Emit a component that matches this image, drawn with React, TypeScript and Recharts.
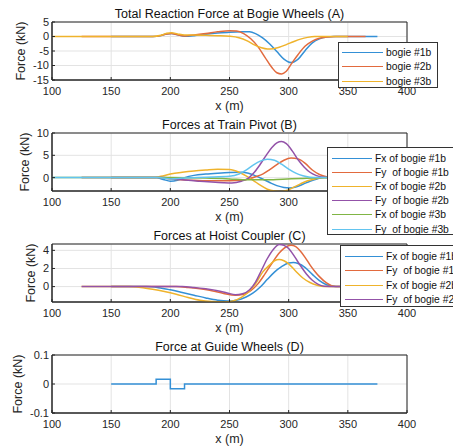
import React from 'react';
import { LineChart, Line, XAxis, YAxis, CartesianGrid, ReferenceArea } from 'recharts';

const xTicks = [100, 150, 200, 250, 300, 350, 400];

// (A) total reaction force at bogie wheels
const aX1 = [150, 185, 192, 197, 201, 206, 212, 220, 230, 240, 250, 260, 267, 272, 278, 284, 290, 296, 302, 308, 314, 320, 326, 332, 338, 345, 375];
const aY1 = [0, 0, 0.3, 0.9, 1.0, 0.6, 0.1, 0.3, 0.8, 1.2, 1.5, 1.6, 1.6, 1.0, -0.5, -2.6, -5.2, -7.8, -9.0, -7.8, -4.8, -2.2, -0.8, -0.2, 0, 0, 0];
const aX2 = [125, 185, 192, 197, 201, 206, 212, 220, 230, 240, 250, 256, 262, 268, 274, 280, 286, 290, 294, 298, 303, 308, 314, 320, 326, 332, 340, 365];
const aY2 = [0, 0, 0.3, 0.9, 1.0, 0.6, 0.2, 0.5, 1.0, 1.6, 2.0, 1.9, 1.0, -0.8, -3.5, -7.2, -10.8, -12.5, -12.9, -12.0, -9.0, -6.2, -3.3, -1.6, -0.6, -0.2, 0, 0];
const aX3 = [100, 185, 192, 197, 201, 206, 212, 220, 230, 240, 250, 258, 265, 271, 277, 282, 287, 292, 298, 304, 310, 316, 322, 330, 350];
const aY3 = [0, 0, 0.4, 1.1, 1.3, 0.9, 0.5, 0.5, 0.4, 0.3, 0.1, -0.4, -1.5, -2.9, -3.9, -4.3, -4.2, -3.7, -2.8, -1.8, -0.9, -0.3, 0, 0, 0];

// (B) forces at train pivot
const bX1 = [150, 188, 194, 200, 206, 212, 220, 230, 240, 250, 260, 266, 272, 278, 284, 290, 296, 301, 306, 312, 318, 324, 330, 338, 375];
const bY1 = [0, 0, -0.4, -0.8, -0.6, 0, 0.5, 0.8, 1.0, 1.15, 1.2, 1.0, 0.4, -0.3, -1.1, -1.8, -2.2, -2.3, -2.1, -1.5, -0.8, -0.3, 0, 0, 0];
const bX2 = [150, 190, 200, 210, 220, 230, 240, 250, 260, 266, 272, 278, 284, 290, 296, 302, 308, 314, 320, 326, 332, 340, 375];
const bY2 = [0, 0, -0.3, -0.5, -0.6, -0.7, -0.7, -0.7, -0.6, -0.3, 0.2, 0.8, 1.8, 2.9, 3.9, 4.4, 4.2, 3.2, 1.7, 0.7, 0.2, 0, 0];
const bX3 = [125, 185, 192, 200, 210, 220, 230, 240, 250, 258, 264, 270, 276, 282, 288, 293, 298, 304, 310, 316, 322, 330, 340, 365];
const bY3 = [0, 0, 0.3, 0.8, 1.2, 1.5, 1.7, 1.85, 1.8, 1.2, 0.4, -0.6, -1.7, -2.6, -3.0, -3.1, -2.9, -2.2, -1.4, -0.7, -0.3, 0, 0, 0];
const bX4 = [125, 195, 205, 215, 225, 235, 245, 252, 260, 266, 271, 276, 281, 286, 290, 294, 298, 303, 308, 313, 318, 323, 330, 340, 365];
const bY4 = [0, 0, -0.3, -0.6, -0.8, -1.0, -1.15, -1.2, -0.8, -0.1, 1.2, 3.0, 5.0, 6.8, 7.8, 8.1, 7.6, 6.0, 4.0, 2.4, 1.2, 0.5, 0.1, 0, 0];
const bX5 = [100, 200, 230, 250, 265, 280, 295, 310, 325, 340, 350];
const bY5 = [0, 0, -0.1, -0.3, -0.5, -0.5, -0.35, -0.2, -0.05, 0, 0];
const bX6 = [100, 190, 200, 210, 230, 250, 258, 264, 270, 276, 282, 288, 294, 300, 306, 312, 318, 325, 335, 350];
const bY6 = [0, 0, -0.3, -0.1, 0.1, 0.3, 0.8, 1.7, 2.8, 3.7, 4.1, 3.9, 3.0, 1.9, 1.0, 0.4, 0.1, 0, 0, 0];

// (C) forces at hoist coupler
const cX1 = [150, 180, 190, 200, 210, 220, 230, 240, 248, 256, 264, 270, 276, 282, 288, 294, 300, 304, 308, 314, 320, 326, 332, 340, 350];
const cY1 = [0, 0, -0.12, -0.36, -0.65, -0.95, -1.25, -1.5, -1.6, -1.5, -1.15, -0.7, -0.05, 0.8, 1.6, 2.2, 2.6, 2.65, 2.55, 2.1, 1.35, 0.65, 0.2, 0, 0];
const cX2 = [150, 205, 215, 225, 235, 245, 255, 262, 268, 274, 280, 286, 292, 298, 302, 306, 310, 314, 318, 322, 326, 332, 340, 350];
const cY2 = [0, 0, -0.1, -0.25, -0.45, -0.75, -0.95, -0.85, -0.45, 0.3, 1.4, 2.6, 3.7, 4.4, 4.55, 4.4, 3.9, 3.2, 2.4, 1.7, 1.1, 0.4, 0, 0];
const cX3 = [125, 165, 175, 185, 195, 205, 215, 225, 235, 245, 253, 260, 266, 272, 278, 284, 288, 292, 296, 300, 306, 312, 318, 324, 330, 340, 350];
const cY3 = [0, 0, -0.1, -0.3, -0.55, -0.85, -1.2, -1.5, -1.65, -1.7, -1.6, -1.2, -0.6, 0.3, 1.6, 2.4, 2.85, 3.0, 2.85, 2.5, 1.7, 0.95, 0.45, 0.15, 0, 0, 0];
const cX4 = [125, 210, 220, 230, 240, 248, 255, 261, 267, 272, 277, 282, 287, 292, 296, 300, 305, 310, 315, 320, 325, 330, 340, 350];
const cY4 = [0, 0, -0.1, -0.25, -0.45, -0.7, -0.9, -0.8, -0.35, 0.5, 1.8, 3.1, 4.1, 4.65, 4.55, 4.2, 3.3, 2.3, 1.4, 0.7, 0.25, 0.05, 0, 0];

// (D) force at guide wheels
const dX1 = [150, 188, 188, 200, 200, 212, 212, 375];
const dY1 = [0, 0, 0.016, 0.016, -0.016, -0.016, 0, 0];

const BLUE = '#3490d6';
const ORANGE = '#e26a3e';
const YELLOW = '#efb32c';
const PURPLE = '#9352a8';
const GREEN = '#80b545';
const CYAN = '#62c4ef';

const zip = (xs: number[], ys: number[]) => xs.map((x, i) => ({ x, y: ys[i] }));

type Series = { name: string; color: string; pts: { x: number; y: number }[] };
type LegendBox = { left: number; top: number; width: number; height: number; first: number; step: number; lineX: number; lineW: number };

const panels = [
  {
    top: 0,
    title: 'Total Reaction Force at Bogie Wheels (A)',
    yDomain: [-15, 5],
    yTicks: [-15, -10, -5, 0, 5],
    ylabelX: 20.5,
    curve: 'monotone',
    series: [
      { name: 'bogie #1b', color: BLUE, pts: zip(aX1, aY1) },
      { name: 'bogie #2b', color: ORANGE, pts: zip(aX2, aY2) },
      { name: 'bogie #3b', color: YELLOW, pts: zip(aX3, aY3) },
    ],
    legend: { left: 338, top: 42, width: 100, height: 46, first: 9, step: 14.5, lineX: 4, lineW: 41 },
  },
  {
    top: 111,
    title: 'Forces at Train Pivot (B)',
    yDomain: [-3, 10],
    yTicks: [0, 5, 10],
    ylabelX: 25,
    curve: 'monotone',
    series: [
      { name: 'Fx of bogie #1b', color: BLUE, pts: zip(bX1, bY1) },
      { name: 'Fy  of bogie #1b', color: ORANGE, pts: zip(bX2, bY2) },
      { name: 'Fx of bogie #2b', color: YELLOW, pts: zip(bX3, bY3) },
      { name: 'Fy  of bogie #2b', color: PURPLE, pts: zip(bX4, bY4) },
      { name: 'Fx of bogie #3b', color: GREEN, pts: zip(bX5, bY5) },
      { name: 'Fy  of bogie #3b', color: CYAN, pts: zip(bX6, bY6) },
    ],
    legend: { left: 327, top: 147, width: 135, height: 88, first: 10, step: 14.2, lineX: 5, lineW: 40 },
  },
  {
    top: 222,
    title: 'Forces at Hoist Coupler (C)',
    yDomain: [-1.7, 4.7],
    yTicks: [0, 2, 4],
    ylabelX: 30.5,
    curve: 'monotone',
    series: [
      { name: 'Fx of bogie #1b', color: BLUE, pts: zip(cX1, cY1) },
      { name: 'Fy  of bogie #1b', color: ORANGE, pts: zip(cX2, cY2) },
      { name: 'Fx of bogie #2b', color: YELLOW, pts: zip(cX3, cY3) },
      { name: 'Fy  of bogie #2b', color: PURPLE, pts: zip(cX4, cY4) },
    ],
    legend: { left: 340, top: 245, width: 130, height: 62, first: 10, step: 14.6, lineX: 5, lineW: 38 },
  },
  {
    top: 333,
    title: 'Force at Guide Wheels (D)',
    yDomain: [-0.1, 0.1],
    yTicks: [-0.1, 0, 0.1],
    ylabelX: 18,
    curve: 'linear',
    series: [{ name: 'guide', color: BLUE, pts: zip(dX1, dY1) }],
    legend: null,
  },
];

const Legend = ({ box, series }: { box: LegendBox; series: Series[] }) => (
  <div
    style={{
      position: 'absolute',
      left: box.left,
      top: box.top,
      width: box.width,
      height: box.height,
      boxSizing: 'border-box',
      border: '1px solid #333',
      background: '#fff',
      fontSize: 10.3,
      color: '#111',
    }}
  >
    {series.map((s, i) => (
      <div
        key={s.name}
        style={{
          position: 'absolute',
          left: box.lineX - 1,
          top: box.first + i * box.step - 8,
          height: 16,
          display: 'flex',
          alignItems: 'center',
          whiteSpace: 'pre',
        }}
      >
        <div style={{ width: box.lineW, height: 0, borderTop: `1.5px solid ${s.color}` }} />
        <span style={{ marginLeft: 3 }}>{s.name}</span>
      </div>
    ))}
  </div>
);

const Panel = ({ p }: { p: (typeof panels)[number] }) => (
  <div style={{ position: 'absolute', left: 0, top: p.top, width: 453, height: 125 }}>
    <LineChart width={453} height={125} margin={{ top: 22, right: 46, bottom: 14, left: 0 }}>
      <CartesianGrid stroke="#e3e3e3" />
      <XAxis
        type="number"
        dataKey="x"
        domain={[100, 400]}
        ticks={xTicks}
        interval={0}
        allowDataOverflow
        height={31}
        tickSize={-3}
        tickMargin={10}
        stroke="#262626"
        tick={{ fill: '#262626', fontSize: 11 }}
        label={{ value: 'x (m)', position: 'insideBottom', offset: 1, fill: '#262626', fontSize: 12.5 }}
      />
      <YAxis
        type="number"
        domain={p.yDomain}
        ticks={p.yTicks}
        interval={0}
        allowDataOverflow
        width={52}
        tickSize={-3}
        tickMargin={6}
        stroke="#262626"
        tick={{ fill: '#262626', fontSize: 11 }}
        label={{
          value: 'Force (kN)',
          angle: -90,
          position: 'insideLeft',
          offset: p.ylabelX,
          textAnchor: 'middle',
          fill: '#262626',
          fontSize: 12.5,
        }}
      />
      <ReferenceArea x1={100} x2={400} y1={p.yDomain[0]} y2={p.yDomain[1]} fill="none" stroke="#262626" strokeWidth={1} />
      {p.series.map((s) => (
        <Line
          key={s.name}
          data={s.pts}
          dataKey="y"
          name={s.name}
          type={p.curve as any}
          stroke={s.color}
          strokeWidth={1.5}
          dot={false}
          activeDot={false}
          isAnimationActive={false}
        />
      ))}
    </LineChart>
    <div
      style={{
        position: 'absolute',
        left: 52,
        width: 355,
        top: 6,
        textAlign: 'center',
        fontSize: 12.5,
        lineHeight: '16px',
        color: '#111',
      }}
    >
      {p.title}
    </div>
  </div>
);

export default function App() {
  return (
    <div
      style={{
        position: 'absolute',
        left: 0,
        top: 0,
        width: 453,
        height: 447,
        overflow: 'hidden',
        background: '#fff',
        fontFamily: '"Liberation Sans", Arial, sans-serif',
      }}
    >
      {panels.map((p) => (
        <Panel key={p.title} p={p} />
      ))}
      {panels.map((p) => (p.legend ? <Legend key={'lg' + p.title} box={p.legend} series={p.series} /> : null))}
    </div>
  );
}
